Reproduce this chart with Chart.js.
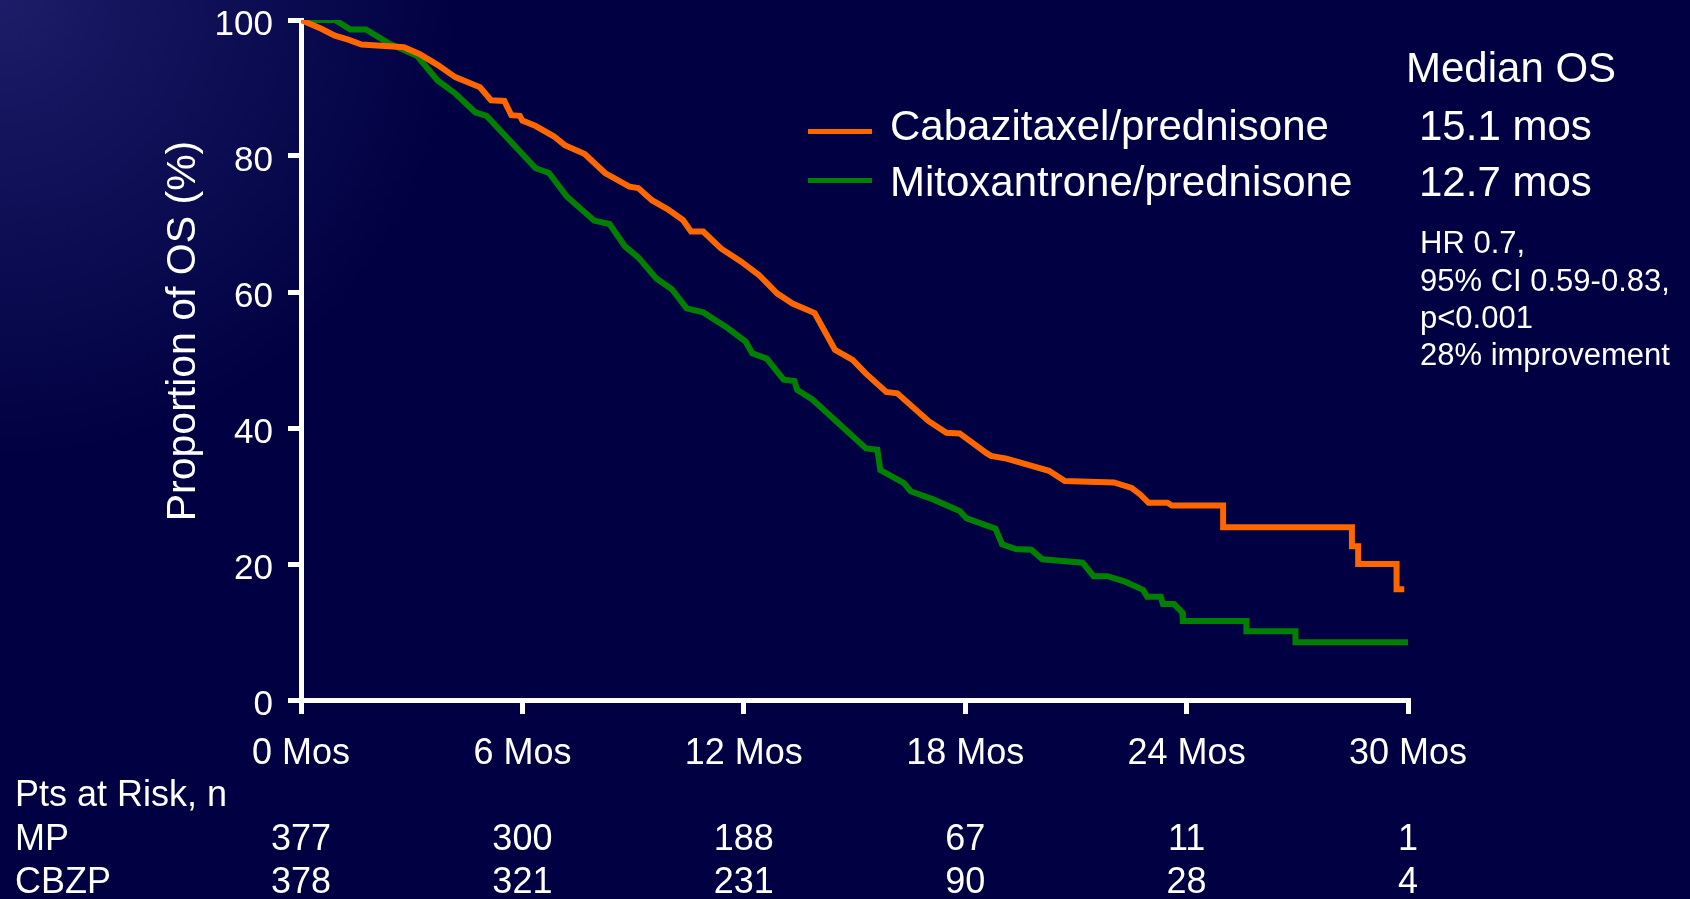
<!DOCTYPE html>
<html>
<head>
<meta charset="utf-8">
<script src="https://cdn.jsdelivr.net/npm/chart.js@4"></script>
<style>
  html, body { margin: 0; padding: 0; background: #000042; overflow: hidden; }
  #wrap { width: 1690px; height: 899px; position: relative; }
</style>
</head>
<body>
<div id="wrap"><canvas id="c"></canvas></div>
<script>
// ---- Data ----
const seriesLabels = ['Cabazitaxel/prednisone', 'Mitoxantrone/prednisone'];
const medianLabels = ['15.1 mos', '12.7 mos'];
const seriesColors = ['#FF6600', '#008000'];

const cbzpMonths = [0,0.55,0.92,1.28,1.64,2.49,2.79,3.21,3.70,4.18,4.85,5.15,5.51,5.70,5.93,6.0,6.36,6.85,7.15,7.69,8.24,8.90,9.14,9.51,9.93,10.35,10.57,10.9,11.38,11.92,12.41,12.9,13.32,13.92,14.47,14.95,15.31,15.86,16.16,17.01,17.49,17.85,18.58,18.7,19.12,20.27,20.7,22.03,22.51,22.75,22.97,23.48,23.60,24.99,24.99,28.48,28.48,28.65,28.65,29.69,29.69,29.9];
const cbzpSurv   = [100,98.7,97.7,97.1,96.4,96.1,96.0,95.0,93.4,91.6,90.1,88.2,88.1,86.0,85.9,85.2,84.4,82.9,81.6,80.3,77.5,75.5,75.3,73.5,72.2,70.6,68.9,68.9,66.4,64.5,62.5,59.8,58.3,56.9,51.5,50.0,48.0,45.3,45.1,41.0,39.3,39.2,36.3,35.9,35.5,33.7,32.2,32.0,31.2,30.2,29.0,29.0,28.6,28.6,25.4,25.4,22.6,22.6,20.0,20.0,16.3,16.3];

const mpMonths = [0,0.92,1.34,1.76,2.37,3.15,3.70,4.18,4.73,5.03,6.36,6.72,7.21,7.94,8.36,8.78,9.14,9.63,10.05,10.45,10.9,11.56,12.05,12.23,12.62,13.08,13.37,13.45,13.86,15.31,15.62,15.70,16.34,16.52,17.13,17.85,18.04,18.82,19.0,19.37,19.79,20.09,21.18,21.48,21.85,22.33,22.82,22.93,23.3,23.36,23.66,23.88,23.9,25.62,25.62,26.95,26.95,30];
const mpSurv   = [100,100,98.6,98.6,96.6,94.7,91.1,89.2,86.4,85.9,78.2,77.5,74.0,70.5,70.0,66.7,65.1,62.0,60.4,57.6,57.0,54.7,52.7,51.0,50.2,47.1,46.9,45.6,44.2,37.0,36.8,33.8,31.9,30.7,29.5,27.8,26.7,25.2,22.9,22.2,22.1,20.7,20.2,18.2,18.2,17.4,16.2,15.2,15.2,14.1,14.1,12.9,11.6,11.6,10.1,10.1,8.5,8.5];

const xTickMonths = [0, 6, 12, 18, 24, 30];
const xTickLabels = ['0 Mos', '6 Mos', '12 Mos', '18 Mos', '24 Mos', '30 Mos'];
const riskHeader = 'Pts at Risk, n';
const riskRowLabels = ['MP', 'CBZP'];
const riskMP   = [377, 300, 188, 67, 11, 1];
const riskCBZP = [378, 321, 231, 90, 28, 4];
const yTitle = 'Proportion of OS (%)';
const medianTitle = 'Median OS';
const statsLines = ['HR 0.7,', '95% CI 0.59-0.83,', 'p<0.001', '28% improvement'];

// ---- Chart ----
const FONT = '"Liberation Sans", Arial, Helvetica, sans-serif';

const bgPlugin = {
  id: 'bg',
  beforeDraw(chart) {
    const ctx = chart.ctx;
    ctx.save();
    ctx.fillStyle = '#000042';
    ctx.fillRect(0, 0, chart.width, chart.height);
    const g = ctx.createRadialGradient(0, 0, 0, 0, 0, 460);
    g.addColorStop(0, 'rgba(40,40,120,0.7)');
    g.addColorStop(1, 'rgba(40,40,120,0)');
    ctx.fillStyle = g;
    ctx.fillRect(0, 0, chart.width, chart.height);
    ctx.restore();
  }
};

const textPlugin = {
  id: 'texts',
  afterDraw(chart) {
    const ctx = chart.ctx;
    const xs = chart.scales.x;
    ctx.save();
    ctx.fillStyle = '#FFFFFF';
    ctx.textBaseline = 'alphabetic';

    // y-axis title
    ctx.save();
    ctx.font = '41px ' + FONT;
    ctx.translate(195, 331);
    ctx.rotate(-Math.PI / 2);
    ctx.textAlign = 'center';
    ctx.fillText(yTitle, 0, 0);
    ctx.restore();

    // legend
    const legendLineY = [131.5, 180.5];
    const legendTextY = [140, 196];
    chart.data.datasets.forEach((ds, i) => {
      ctx.strokeStyle = ds.borderColor;
      ctx.lineWidth = 5;
      ctx.beginPath();
      ctx.moveTo(808, legendLineY[i]);
      ctx.lineTo(872, legendLineY[i]);
      ctx.stroke();
      ctx.font = '42px ' + FONT;
      ctx.textAlign = 'left';
      ctx.fillText(ds.label, 890, legendTextY[i]);
      ctx.fillText(medianLabels[i], 1419, legendTextY[i]);
    });
    ctx.font = '42px ' + FONT;
    ctx.fillText(medianTitle, 1406, 82);

    ctx.font = '31px ' + FONT;
    const statY = [253, 291, 328, 365];
    statsLines.forEach((t, i) => ctx.fillText(t, 1420, statY[i]));

    // risk table
    ctx.font = '36px ' + FONT;
    ctx.textAlign = 'left';
    ctx.fillText(riskHeader, 15, 806);
    ctx.fillText(riskRowLabels[0], 15, 850);
    ctx.fillText(riskRowLabels[1], 15, 893);
    ctx.textAlign = 'center';
    xTickMonths.forEach((m, i) => {
      const px = xs.getPixelForValue(m);
      ctx.fillText(String(riskMP[i]), px, 850);
      ctx.fillText(String(riskCBZP[i]), px, 893);
    });
    ctx.restore();
  }
};

const ctx = document.getElementById('c').getContext('2d');
new Chart(ctx, {
  type: 'line',
  data: {
    datasets: [
      {
        label: seriesLabels[0],
        data: cbzpMonths.map((m, i) => ({ x: m, y: cbzpSurv[i] })),
        borderColor: seriesColors[0],
        borderWidth: 6,
        pointRadius: 0,
        tension: 0,
        fill: false
      },
      {
        label: seriesLabels[1],
        data: mpMonths.map((m, i) => ({ x: m, y: mpSurv[i] })),
        borderColor: seriesColors[1],
        borderWidth: 6,
        pointRadius: 0,
        tension: 0,
        fill: false
      }
    ]
  },
  options: {
    responsive: true,
    maintainAspectRatio: false,
    animation: false,
    events: [],
    layout: { padding: { left: 0, top: 20, right: 282, bottom: 0 } },
    plugins: { legend: { display: false }, tooltip: { enabled: false } },
    scales: {
      x: {
        type: 'linear',
        min: 0, max: 30,
        afterBuildTicks: s => { s.ticks = xTickMonths.map(v => ({ value: v })); },
        afterFit: s => { s.height = 199; s.paddingLeft = 0; s.paddingRight = 0; },
        ticks: {
          color: '#FFFFFF',
          font: { family: FONT, size: 36, lineHeight: 1 },
          padding: 22,
          maxRotation: 0,
          autoSkip: false,
          callback: (v, i) => xTickLabels[i]
        },
        grid: { drawOnChartArea: false, color: '#FFFFFF', lineWidth: 5, tickLength: 14 },
        border: { display: true, color: '#FFFFFF', width: 5 }
      },
      y: {
        min: 0, max: 100,
        afterFit: s => { s.width = 301; s.paddingTop = 0; s.paddingBottom = 0; },
        ticks: {
          stepSize: 20,
          color: '#FFFFFF',
          font: { family: FONT, size: 35, lineHeight: 1 },
          padding: 15,
          labelOffset: 5
        },
        grid: { drawOnChartArea: false, color: '#FFFFFF', lineWidth: 5, tickLength: 13 },
        border: { display: true, color: '#FFFFFF', width: 5 }
      }
    }
  },
  plugins: [bgPlugin, textPlugin]
});
</script>
</body>
</html>
